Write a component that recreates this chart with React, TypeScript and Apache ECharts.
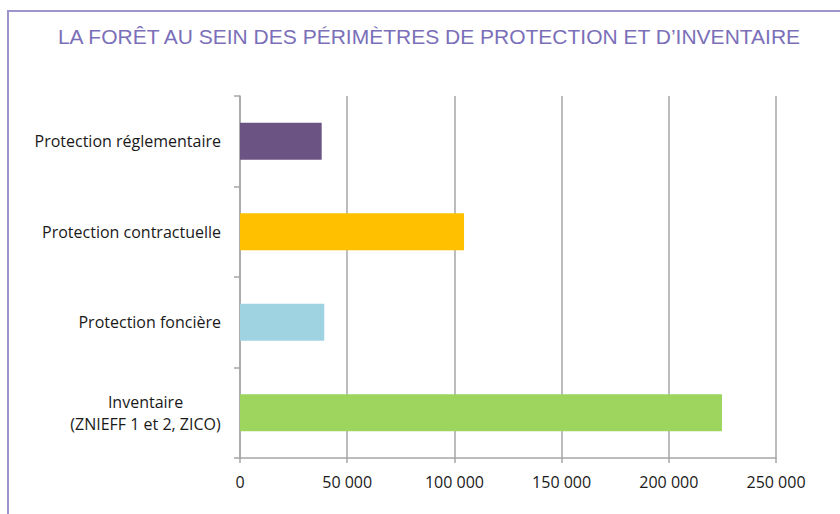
import React, { useEffect, useRef } from "react";
import * as echarts from "echarts";

const categories = [
  "Protection réglementaire",
  "Protection contractuelle",
  "Protection foncière",
  "Inventaire\n(ZNIEFF 1 et 2, ZICO)",
];
const values = [38100, 104500, 39300, 224800];
const barColors = ["#6b5484", "#ffc000", "#a0d3e2", "#9dd55f"];
const xTicks = [0, 50000, 100000, 150000, 200000, 250000];

const title = "LA FORÊT AU SEIN DES PÉRIMÈTRES DE PROTECTION ET D\u2019INVENTAIRE";

export default function App() {
  const ref = useRef<HTMLDivElement>(null);
  useEffect(() => {
    if (!ref.current) return;
    const chart = echarts.init(ref.current, null, { renderer: "svg" });
    const labelFont = "'Open Sans', sans-serif";
    const labelSize = 16;
    let multiWidth = 175;
    try {
      const ctx = document.createElement("canvas").getContext("2d");
      if (ctx) {
        ctx.font = labelSize + "px 'Open Sans'";
        multiWidth = Math.ceil(
          Math.max(...categories[3].split("\n").map((s) => ctx.measureText(s).width))
        );
      }
    } catch (e) {}
    chart.setOption({
      animation: false,
      backgroundColor: "#ffffff",
      title: {
        text: title,
        left: 424,
        top: 21,
        textAlign: "center",
        textStyle: {
          fontFamily: "'Liberation Sans', Arial, sans-serif",
          fontSize: 21,
          fontWeight: "normal",
          color: "#7a6fb8",
        },
      },
      graphic: [
        {
          type: "polyline",
          shape: { points: [[8, 514], [8, 11], [840, 11]] },
          style: { stroke: "#9c95cc", lineWidth: 2, fill: null },
        },
      ],
      grid: { left: 240, right: 64, top: 96, bottom: 56, containLabel: false },
      xAxis: {
        type: "value",
        min: 0,
        max: 250000,
        interval: 50000,
        axisLine: { show: true, lineStyle: { color: "#a6a6a6", width: 1.5 } },
        axisTick: { show: true, length: 5, lineStyle: { color: "#a6a6a6", width: 1.5 } },
        splitLine: { show: true, lineStyle: { color: "#a6a6a6", width: 1.5 } },
        axisLabel: {
          margin: 16,
          fontFamily: labelFont,
          fontSize: labelSize,
          color: "#1a1a1a",
          formatter: (v: number) => {
            const idx = xTicks.indexOf(v);
            const n = idx >= 0 ? xTicks[idx] : v;
            return n === 0 ? "0" : String(n).replace(/\B(?=(\d{3})+(?!\d))/g, " ");
          },
        },
      },
      yAxis: {
        type: "category",
        data: categories,
        inverse: true,
        axisLine: { show: true, lineStyle: { color: "#a6a6a6", width: 1.5 } },
        axisTick: { show: true, length: 6, lineStyle: { color: "#a6a6a6", width: 1.5 } },
        axisLabel: {
          margin: 19,
          fontFamily: labelFont,
          fontSize: labelSize,
          color: "#1a1a1a",
          lineHeight: 22,
          formatter: (v: string) => {
            if (v.indexOf("\n") >= 0) {
              return v
                .split("\n")
                .map((s) => "{c|" + s + "}")
                .join("\n");
            }
            return v;
          },
          rich: {
            c: {
              width: multiWidth,
              align: "center",
              fontFamily: labelFont,
              fontSize: labelSize,
              color: "#1a1a1a",
              lineHeight: 22,
            },
          },
        },
      },
      series: [
        {
          type: "bar",
          data: values.map((v, i) => ({ value: v, itemStyle: { color: barColors[i] } })),
          barWidth: 37,
        },
      ],
    });
    return () => chart.dispose();
  }, []);
  return <div ref={ref} style={{ width: 840, height: 514, position: "absolute", left: 0, top: 0 }} />;
}
